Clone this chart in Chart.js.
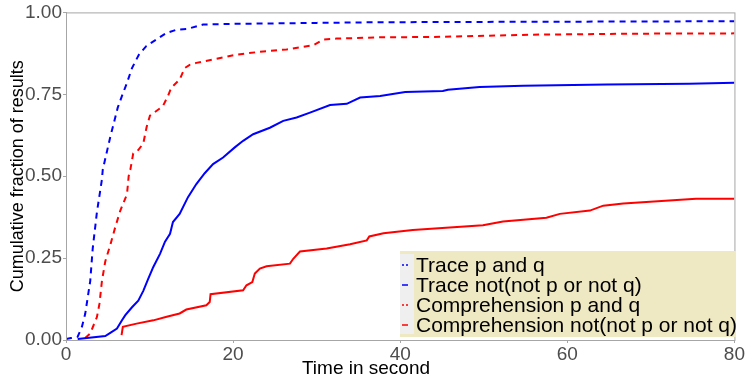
<!DOCTYPE html>
<html>
<head>
<meta charset="utf-8">
<script src="https://cdn.jsdelivr.net/npm/chart.js@4/dist/chart.umd.min.js"></script>
<style>
html,body{margin:0;padding:0;background:#fff;}
#wrap{width:745px;height:383px;position:relative;}
</style>
</head>
<body>
<div id="wrap"><canvas id="c" width="745" height="383"></canvas></div>
<script>
// ---- Data ----
const seriesLabels = ["Trace p and q", "Trace not(not p or not q)", "Comprehension p and q", "Comprehension not(not p or not q)"];

const tracePQ_t = [0, 0.6, 1.4, 1.9, 2.3, 2.9, 3.2, 3.7, 4.3, 4.4, 5.3, 5.9, 6.2, 6.7, 7.3, 7.9, 8.7, 9.6, 10.8, 12.0, 13.2, 14.6, 16.4, 20, 30, 37.6, 50, 65, 80];
const tracePQ_v = [0.003, 0.006, 0.01, 0.04, 0.08, 0.18, 0.28, 0.39, 0.49, 0.52, 0.62, 0.68, 0.71, 0.745, 0.785, 0.83, 0.87, 0.897, 0.917, 0.937, 0.947, 0.95, 0.963, 0.965, 0.968, 0.97, 0.971, 0.972, 0.973];

const traceNot_t = [1.4, 4.7, 5.3, 6.1, 6.7, 7.1, 7.9, 8.65, 9.25, 9.85, 10.45, 11.25, 11.85, 12.45, 12.8, 13.6, 14.6, 15.6, 16.6, 17.6, 18.8, 20.2, 21.2, 22.4, 24.4, 26.0, 27.6, 29.2, 31.6, 33.6, 35.2, 37.6, 40.6, 45.1, 45.7, 49.5, 54.7, 64.7, 74.6, 80];
const traceNot_v = [0.003, 0.012, 0.022, 0.035, 0.06, 0.076, 0.10, 0.12, 0.15, 0.187, 0.223, 0.263, 0.30, 0.324, 0.36, 0.385, 0.436, 0.476, 0.509, 0.537, 0.557, 0.588, 0.608, 0.628, 0.648, 0.669, 0.679, 0.694, 0.717, 0.721, 0.74, 0.745, 0.757, 0.76, 0.764, 0.772, 0.776, 0.78, 0.782, 0.785];

const compPQ_t = [2.3, 2.9, 3.7, 4.0, 4.3, 4.7, 5.3, 5.9, 6.5, 7.3, 7.5, 7.7, 8.05, 8.65, 9.25, 9.65, 10.05, 10.6, 11.6, 12.2, 12.6, 13.6, 14.2, 14.8, 15.6, 17.6, 20.4, 23.6, 26.4, 29.6, 30.8, 32.4, 37.6, 43.9, 55.9, 67.8, 80];
const compPQ_v = [0.006, 0.02, 0.07, 0.11, 0.18, 0.24, 0.29, 0.345, 0.395, 0.445, 0.50, 0.52, 0.57, 0.58, 0.60, 0.65, 0.685, 0.695, 0.714, 0.745, 0.77, 0.795, 0.83, 0.84, 0.846, 0.856, 0.871, 0.881, 0.887, 0.90, 0.917, 0.92, 0.924, 0.925, 0.932, 0.935, 0.936];

const compNot_t = [6.65, 6.8, 8.45, 10.45, 12.05, 13.6, 14.4, 16.8, 17.2, 17.3, 21.2, 21.6, 22.3, 22.6, 23.2, 24.0, 26.8, 27.2, 28.0, 31.2, 34.0, 36.0, 36.3, 38.0, 41.5, 49.9, 52.3, 57.5, 59.1, 62.7, 64.3, 66.7, 75.4, 80];
const compNot_v = [0.015, 0.04, 0.05, 0.06, 0.071, 0.081, 0.093, 0.106, 0.116, 0.14, 0.152, 0.167, 0.177, 0.203, 0.218, 0.225, 0.233, 0.248, 0.27, 0.279, 0.292, 0.304, 0.316, 0.326, 0.336, 0.35, 0.362, 0.373, 0.385, 0.395, 0.41, 0.417, 0.431, 0.431];

const xTicks = [0, 20, 40, 60, 80];
const yTicks = [0, 0.25, 0.5, 0.75, 1.0];
const xTitle = 'Time in second';
const yTitle = 'Cumulative fraction of results';

// ---- Build ----
const toPts = (t, v) => t.map((x, i) => ({x: x, y: v[i]}));
const FONT = "'Liberation Sans', Arial, sans-serif";

const datasets = [
  {label: seriesLabels[0], data: toPts(tracePQ_t, tracePQ_v), borderColor: '#0000FF', borderDash: [6, 5]},
  {label: seriesLabels[1], data: toPts(traceNot_t, traceNot_v), borderColor: '#0000FF', borderDash: []},
  {label: seriesLabels[2], data: toPts(compPQ_t, compPQ_v), borderColor: '#FF0000', borderDash: [6, 5]},
  {label: seriesLabels[3], data: toPts(compNot_t, compNot_v), borderColor: '#FF0000', borderDash: []}
].map(d => Object.assign(d, {borderWidth: 2, pointRadius: 0, tension: 0, fill: false, backgroundColor: d.borderColor}));

const framePlugin = {
  id: 'frame',
  afterDatasetsDraw(chart) {
    const {ctx, chartArea: a} = chart;
    ctx.save();
    ctx.strokeStyle = '#A6A6A6';
    ctx.lineWidth = 1;
    ctx.strokeRect(a.left + 0.5, a.top + 0.5, a.right - a.left, a.bottom - a.top);
    // x title
    ctx.fillStyle = '#000';
    ctx.font = '19px ' + FONT;
    ctx.textAlign = 'center';
    ctx.textBaseline = 'middle';
    ctx.fillText(xTitle, 366, 369);
    // legend
    ctx.textAlign = 'left';
    const lx = 400, ly = 251, lw = 336, lh = 86;
    ctx.fillStyle = '#EEE8C3';
    ctx.fillRect(lx, ly, lw, lh);
    ctx.fillStyle = '#EFEFEF';
    ctx.fillRect(lx, ly + 3, 14, lh - 6);
    ctx.font = '21px ' + FONT;
    chart.data.datasets.forEach((ds, i) => {
      const cy = ly + 14 + i * 20;
      ctx.strokeStyle = ds.borderColor;
      ctx.lineWidth = 1.5;
      ctx.setLineDash(ds.borderDash && ds.borderDash.length ? [2, 2] : []);
      ctx.beginPath();
      ctx.moveTo(lx + 2, cy);
      ctx.lineTo(lx + 8, cy);
      ctx.stroke();
      ctx.setLineDash([]);
      ctx.fillStyle = '#000';
      ctx.fillText(ds.label, lx + 16, cy + 1);
    });
    ctx.restore();
  }
};

new Chart(document.getElementById('c'), {
  type: 'line',
  data: {datasets: datasets},
  plugins: [framePlugin],
  options: {
    responsive: false,
    animation: false,
    maintainAspectRatio: false,
    layout: {padding: {left: 0, top: 11, right: 10, bottom: 0}},
    plugins: {legend: {display: false}, tooltip: {enabled: false}},
    scales: {
      x: {
        type: 'linear', min: 0, max: 80,
        afterBuildTicks: s => { s.ticks = xTicks.map(v => ({value: v})); },
        afterFit: s => { s.height = 43; },
        ticks: {color: '#4D4D4D', font: {family: FONT, size: 19}, padding: 0, maxRotation: 0},
        grid: {drawOnChartArea: false, drawTicks: true, tickLength: 3, color: '#A6A6A6'},
        border: {display: true, color: '#A6A6A6'},
        title: {display: false}
      },
      y: {
        type: 'linear', min: 0, max: 1,
        afterBuildTicks: s => { s.ticks = yTicks.map(v => ({value: v})); },
        afterFit: s => { s.width = 66; },
        ticks: {color: '#4D4D4D', font: {family: FONT, size: 19}, padding: 1, callback: v => Number(v).toFixed(2)},
        grid: {drawOnChartArea: false, drawTicks: true, tickLength: 3, color: '#A6A6A6'},
        border: {display: true, color: '#A6A6A6'},
        title: {display: true, text: yTitle, color: '#000', font: {family: FONT, size: 18}, padding: {top: 7, bottom: 0}}
      }
    }
  }
});
</script>
</body>
</html>
